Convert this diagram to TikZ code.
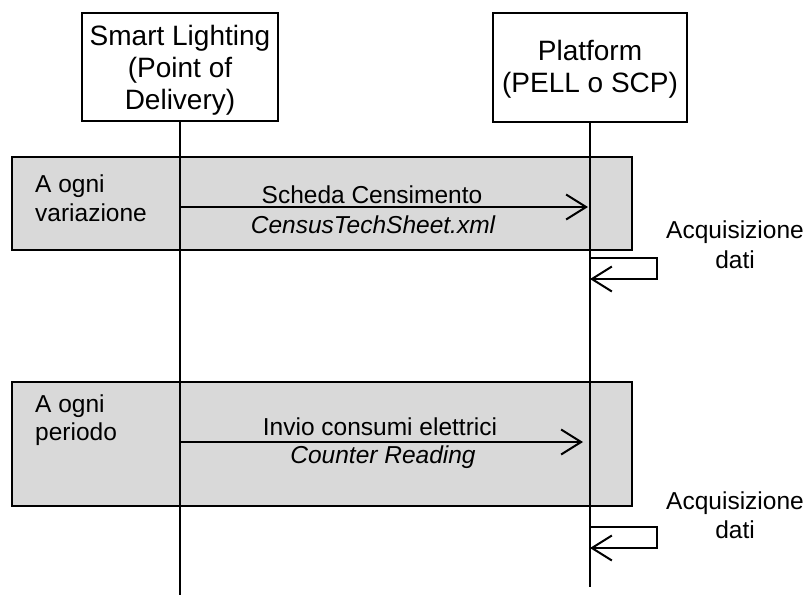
\documentclass[tikz,border=0pt]{standalone}
\usepackage{fontspec}
\setmainfont{Liberation Sans}
\usetikzlibrary{arrows.meta}
\definecolor{grpfill}{HTML}{D9D9D9}
\begin{document}
\begin{tikzpicture}[x=1pt,y=-1pt,
  hdr/.style={draw, line width=2.6pt, fill=white, inner sep=0pt},
  big/.style={font=\fontsize{28}{32}\selectfont, inner sep=0pt, anchor=base},
  small/.style={font=\fontsize{24.5}{29}\selectfont, inner sep=0pt, anchor=base},
  smallw/.style={small, anchor=base west},
  grp/.style={draw, line width=2.6pt, fill=grpfill, inner sep=0pt},
  life/.style={line width=2pt},
  msg/.style={line width=2pt, -{Straight Barb[length=20pt,width=25pt,line width=2pt]}}]
\useasboundingbox (0,0) rectangle (809,595);

% groups
\node[grp, minimum width=620pt, minimum height=93pt] (g1) at (322,203.5) {};
\node[grp, minimum width=620pt, minimum height=124pt] (g2) at (322,444) {};

% headers
\node[hdr, minimum width=196pt, minimum height=108pt] (sl) at (180,67) {};
\node[hdr, minimum width=194pt, minimum height=109pt] (pl) at (590,67.5) {};

% lifelines
\coordinate (slend) at (180,595);
\coordinate (plend) at (590,587);
\draw[life] (sl.south) -- (slend);
\draw[life] (pl.south) -- (plend);

% header texts
\node[big] (sl1) at (180,45) {Smart Lighting};
\node[big] (sl2) at (180,77) {(Point of};
\node[big] (sl3) at (180,109) {Delivery)};
\node[big] (pl1) at (590,60) {Platform};
\node[big] (pl2) at (590,92) {(PELL o SCP)};

% group labels
\node[smallw] (g1a) at (35,192) {A ogni};
\node[smallw] (g1b) at (35,221) {variazione};
\node[smallw] (g2a) at (35,412) {A ogni};
\node[smallw] (g2b) at (35,440) {periodo};

% messages
\coordinate (m1s) at (180,207);
\coordinate (m1e) at (588,207);
\draw[msg] (m1s) -- (m1e);
\node[small] (m1a) at (372,203) {Scheda Censimento};
\node[small] (m1b) at (373,233) {\itshape CensusTechSheet.xml};

\coordinate (m2s) at (180,442);
\coordinate (m2e) at (583,442);
\draw[msg] (m2s) -- (m2e);
\node[small] (m2a) at (380,435) {Invio consumi elettrici};
\node[small] (m2b) at (383,463) {\itshape Counter Reading};

% self messages
\coordinate (s1a) at (590,258);
\coordinate (s1b) at (590,279);
\draw[msg] (s1a) -- (657,258) |- (s1b);
\node[small] (s1t1) at (735,238) {Acquisizione};
\node[small] (s1t2) at (735,268) {dati};

\coordinate (s2a) at (590,527);
\coordinate (s2b) at (590,548);
\draw[msg] (s2a) -- (657,527) |- (s2b);
\node[small] (s2t1) at (735,509) {Acquisizione};
\node[small] (s2t2) at (735,538) {dati};
\end{tikzpicture}
\end{document}
